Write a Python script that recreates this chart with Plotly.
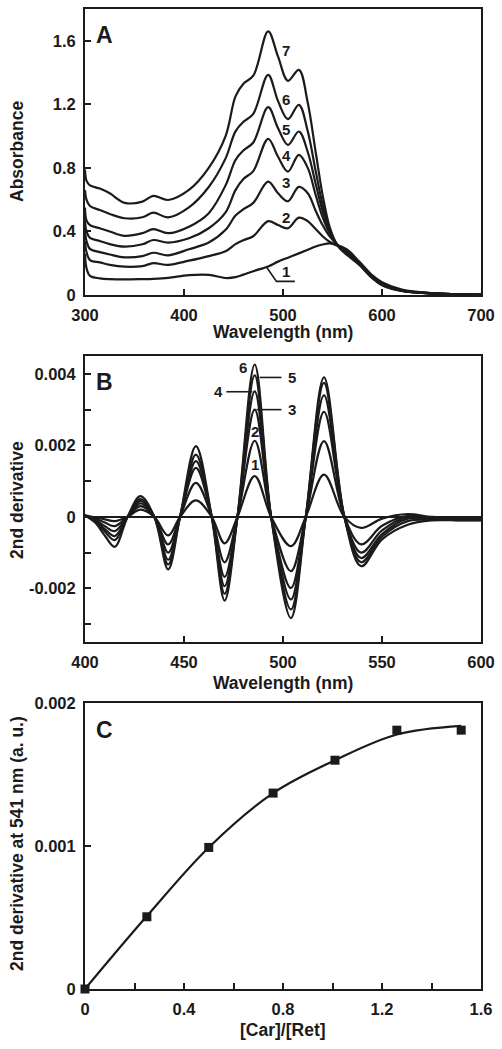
import plotly.graph_objects as go

# ---------------- Panel A: absorption spectra ----------------
WL_A = [300, 301.5, 305, 315, 325, 340, 358, 369, 384, 405, 425, 442, 452, 460, 470,
        485, 495, 505, 516, 525, 533, 540, 547, 555, 565, 577, 590, 600, 620, 650, 700]
abs_1 = [0.26, 0.17, 0.12, 0.105, 0.10, 0.098, 0.10, 0.102, 0.108, 0.125, 0.127, 0.107, 0.112, 0.128, 0.15,
         0.18, 0.21, 0.235, 0.262, 0.285, 0.305, 0.318, 0.325, 0.315, 0.285, 0.21, 0.125, 0.08, 0.034, 0.012, 0.003]
abs_2 = [0.34, 0.27, 0.22, 0.205, 0.19, 0.178, 0.182, 0.20, 0.19, 0.216, 0.245, 0.275, 0.32, 0.345, 0.37,
         0.465, 0.44, 0.42, 0.487, 0.465, 0.415, 0.37, 0.335, 0.31, 0.275, 0.2, 0.118, 0.073, 0.03, 0.011, 0.003]
abs_3 = [0.41, 0.34, 0.29, 0.27, 0.255, 0.237, 0.245, 0.266, 0.25, 0.288, 0.33, 0.41, 0.50, 0.54, 0.58,
         0.714, 0.64, 0.59, 0.68, 0.64, 0.53, 0.44, 0.37, 0.315, 0.27, 0.198, 0.115, 0.07, 0.029, 0.011, 0.003]
abs_4 = [0.47, 0.40, 0.36, 0.34, 0.32, 0.304, 0.319, 0.346, 0.33, 0.357, 0.42, 0.52, 0.66, 0.73, 0.78,
         0.983, 0.87, 0.777, 0.882, 0.80, 0.63, 0.49, 0.39, 0.315, 0.265, 0.196, 0.113, 0.068, 0.028, 0.011, 0.003]
abs_5 = [0.55, 0.47, 0.44, 0.42, 0.40, 0.372, 0.389, 0.414, 0.389, 0.43, 0.515, 0.69, 0.85, 0.91, 0.96,
         1.182, 1.05, 0.945, 1.029, 0.90, 0.70, 0.53, 0.40, 0.315, 0.26, 0.194, 0.111, 0.066, 0.027, 0.010, 0.003]
abs_6 = [0.66, 0.60, 0.56, 0.535, 0.51, 0.483, 0.489, 0.518, 0.489, 0.552, 0.68, 0.86, 1.03, 1.09, 1.14,
         1.386, 1.22, 1.107, 1.197, 1.03, 0.78, 0.57, 0.42, 0.315, 0.255, 0.192, 0.109, 0.064, 0.026, 0.010, 0.003]
abs_7 = [0.79, 0.72, 0.69, 0.67, 0.64, 0.58, 0.588, 0.624, 0.598, 0.661, 0.80, 1.00, 1.25, 1.33, 1.38,
         1.659, 1.50, 1.348, 1.417, 1.21, 0.90, 0.63, 0.43, 0.31, 0.25, 0.19, 0.107, 0.062, 0.025, 0.009, 0.003]
A_SERIES = [abs_1, abs_2, abs_3, abs_4, abs_5, abs_6, abs_7]
A_LABELS = ["1", "2", "3", "4", "5", "6", "7"]

# ---------------- Panel B: second derivative spectra ----------------
WL_B = [400, 405, 410, 415, 421.5, 428, 435, 442, 448, 456, 464, 470.5, 477, 485.7, 494,
        504, 511.5, 520.7, 531, 539.5, 550, 563, 575, 590, 600]
d2_1 = [0.04, -0.02, -0.07, -0.12, 0.0, 0.20, 0.0, -0.52, 0.0, 0.46, 0.0, -0.74, 0.0, 1.14, 0.0,
        -0.82, 0.0, 1.18, 0.0, -0.31, -0.05, 0.08, 0.0, -0.03, -0.03]
d2_2 = [0.04, -0.05, -0.16, -0.26, 0.0, 0.30, 0.0, -0.77, 0.0, 0.95, 0.0, -1.27, 0.0, 2.13, 0.0,
        -1.52, 0.0, 2.12, 0.0, -0.77, -0.25, 0.03, -0.02, -0.05, -0.05]
d2_3 = [0.04, -0.08, -0.26, -0.40, 0.0, 0.38, 0.0, -1.00, 0.0, 1.37, 0.0, -1.68, 0.0, 3.00, 0.0,
        -1.99, 0.0, 2.94, 0.0, -1.00, -0.38, 0.0, -0.04, -0.07, -0.07]
d2_4 = [0.04, -0.10, -0.34, -0.54, 0.0, 0.45, 0.0, -1.20, 0.0, 1.56, 0.0, -1.94, 0.0, 3.51, 0.0,
        -2.31, 0.0, 3.40, 0.0, -1.15, -0.48, -0.05, -0.06, -0.08, -0.08]
d2_5 = [0.04, -0.12, -0.41, -0.65, 0.0, 0.50, 0.0, -1.33, 0.0, 1.74, 0.0, -2.15, 0.0, 3.96, 0.0,
        -2.59, 0.0, 3.75, 0.0, -1.27, -0.55, -0.12, -0.08, -0.09, -0.09]
d2_6 = [0.04, -0.15, -0.52, -0.84, 0.0, 0.58, 0.0, -1.47, 0.0, 1.98, 0.0, -2.34, 0.0, 4.26, 0.0,
        -2.83, 0.0, 3.90, 0.0, -1.38, -0.63, -0.22, -0.10, -0.10, -0.10]
B_SCALE = 1e-3
B_SERIES = [d2_1, d2_2, d2_3, d2_4, d2_5, d2_6]

# ---------------- Panel C: titration ----------------
ratio = [0, 0.25, 0.5, 0.76, 1.01, 1.26, 1.52]
d2_541 = [0.0, 0.000505, 0.00099, 0.00137, 0.0016, 0.00181, 0.00181]
fit_x = [0, 0.25, 0.5, 0.76, 1.01, 1.26, 1.52]
fit_y = [0.0, 0.00051, 0.00099, 0.00137, 0.0016, 0.00178, 0.00184]

INK = "#1c1a1b"
FONT = "Liberation Sans, Arial, sans-serif"

fig = go.Figure()
for s in A_SERIES:
    fig.add_trace(go.Scatter(x=WL_A, y=s, mode="lines", xaxis="x", yaxis="y",
                             line=dict(color=INK, width=2.2, shape="spline", smoothing=1.0),
                             showlegend=False, hoverinfo="skip"))
for s in B_SERIES:
    fig.add_trace(go.Scatter(x=WL_B, y=[v * B_SCALE for v in s], mode="lines", xaxis="x2", yaxis="y2",
                             line=dict(color=INK, width=2.2, shape="spline", smoothing=1.0),
                             showlegend=False, hoverinfo="skip"))
fig.add_trace(go.Scatter(x=fit_x, y=fit_y, mode="lines", xaxis="x3", yaxis="y3",
                         line=dict(color=INK, width=2.2, shape="spline", smoothing=1.0),
                         showlegend=False, hoverinfo="skip"))
fig.add_trace(go.Scatter(x=ratio, y=d2_541, mode="markers", xaxis="x3", yaxis="y3",
                         marker=dict(symbol="square", size=9, color=INK),
                         cliponaxis=False, showlegend=False, hoverinfo="skip"))

W, H = 502, 1049
xdom = [85 / W, 481 / W]
def ydom(top, bottom):
    return [1 - bottom / H, 1 - top / H]

axis_common = dict(showline=True, mirror=True, linecolor=INK, linewidth=2, ticks="inside",
                   ticklen=6, tickwidth=2, tickcolor=INK, showgrid=False, zeroline=False,
                   automargin=False,
                   tickfont=dict(family=FONT, size=16.5, color=INK, weight="bold"),
                   ticklabelstandoff=4)

fig.update_layout(
    template="none",
    width=W, height=H, margin=dict(l=0, r=0, t=0, b=0, pad=0), autosize=False,
    paper_bgcolor="white", plot_bgcolor="white",
    xaxis=dict(domain=xdom, anchor="y", range=[300, 700], tickvals=[300, 400, 500, 600, 700],
               ticktext=["300", "400", "500", "600", "700"], **axis_common),
    yaxis=dict(domain=ydom(9, 295), anchor="x", range=[0, 1.8], tickvals=[0, 0.4, 0.8, 1.2, 1.6],
               ticktext=["0", "0.4", "0.8", "1.2", "1.6"], **axis_common),
    xaxis2=dict(domain=xdom, anchor="y2", range=[400, 600], tickvals=[400, 450, 500, 550, 600],
                ticktext=["400", "450", "500", "550", "600"], **axis_common),
    yaxis2=dict(domain=ydom(356, 642), anchor="x2", range=[-0.0035, 0.0045],
                tickvals=[-0.003, -0.002, -0.001, 0, 0.001, 0.002, 0.003, 0.004],
                ticktext=["", "-0.002", "", "0", "", "0.002", "", "0.004"], **axis_common),
    xaxis3=dict(domain=xdom, anchor="y3", range=[0, 1.6],
                tickvals=[0, 0.2, 0.4, 0.6, 0.8, 1.0, 1.2, 1.4, 1.6],
                ticktext=["0", "", "0.4", "", "0.8", "", "1.2", "", "1.6"], **axis_common),
    yaxis3=dict(domain=ydom(703, 989), anchor="x3", range=[0, 0.002], tickvals=[0, 0.001, 0.002],
                ticktext=["0", "0.001", "0.002"], **axis_common),
)
fig.layout.yaxis2.zeroline = True
fig.layout.yaxis2.zerolinecolor = INK
fig.layout.yaxis2.zerolinewidth = 1.6

ann = []
def txt(text, x, y, xref, yref, size, angle=0, xanchor="center", yanchor="middle"):
    ann.append(dict(text=text, x=x, y=y, xref=xref, yref=yref, showarrow=False, textangle=angle,
                    xanchor=xanchor, yanchor=yanchor,
                    font=dict(family=FONT, size=size, color=INK, weight="bold")))

# axis titles (paper coords)
cx = (85 + 481) / 2 / W
txt("Wavelength (nm)", cx, 1 - 332 / H, "paper", "paper", 17.5)
txt("Wavelength (nm)", cx, 1 - 683 / H, "paper", "paper", 17.5)
txt("[Car]/[Ret]", cx, 1 - 1030 / H, "paper", "paper", 17.5)
txt("Absorbance", 17 / W, 1 - 152 / H, "paper", "paper", 17.5, angle=-90)
txt("2nd derivative", 17 / W, 1 - 500 / H, "paper", "paper", 17.5, angle=-90)
txt("2nd derivative at 541 nm (a. u.)", 17 / W, 1 - 844 / H, "paper", "paper", 17.5, angle=-90)

# panel letters
txt("A", 320, 1.636, "x", "y", 23)
txt("B", 410, 0.00377, "x2", "y2", 23)
txt("C", 0.08, 0.00181, "x3", "y3", 23)

# panel A curve labels
a_label_pos = [(503, 0.145), (503.5, 0.49), (503.5, 0.705), (503.5, 0.88), (503.5, 1.04), (503.5, 1.23), (503.5, 1.54)]
for lab, (lx, ly) in zip(A_LABELS, a_label_pos):
    txt(lab, lx, ly, "x", "y", 15)

# panel B curve labels
b_labels = [("1", 485.7, 0.00146), ("2", 485.7, 0.00238), ("3", 504.3, 0.0030), ("4", 467.2, 0.0035),
            ("5", 504.3, 0.0039), ("6", 479.8, 0.00418)]
for lab, lx, ly in b_labels:
    txt(lab, lx, ly, "x2", "y2", 15)

fig.update_layout(annotations=ann)

shapes = [
    dict(type="path", path="M 483.3,0.176 L 493.4,0.086 L 512,0.086", xref="x", yref="y",
         line=dict(color=INK, width=1.6)),
    dict(type="line", x0=488.2, x1=499.2, y0=0.0039, y1=0.0039, xref="x2", yref="y2",
         line=dict(color=INK, width=1.6)),
    dict(type="line", x0=471.4, x1=484.5, y0=0.0035, y1=0.0035, xref="x2", yref="y2",
         line=dict(color=INK, width=1.6)),
    dict(type="line", x0=486.6, x1=499.2, y0=0.0030, y1=0.0030, xref="x2", yref="y2",
         line=dict(color=INK, width=1.6)),
]
fig.update_layout(shapes=shapes)

fig.write_html("out.html", config={"displayModeBar": False, "staticPlot": True},
               post_script="document.body.style.margin='0';document.body.style.padding='0';"
                           "document.documentElement.style.overflow='hidden';")
